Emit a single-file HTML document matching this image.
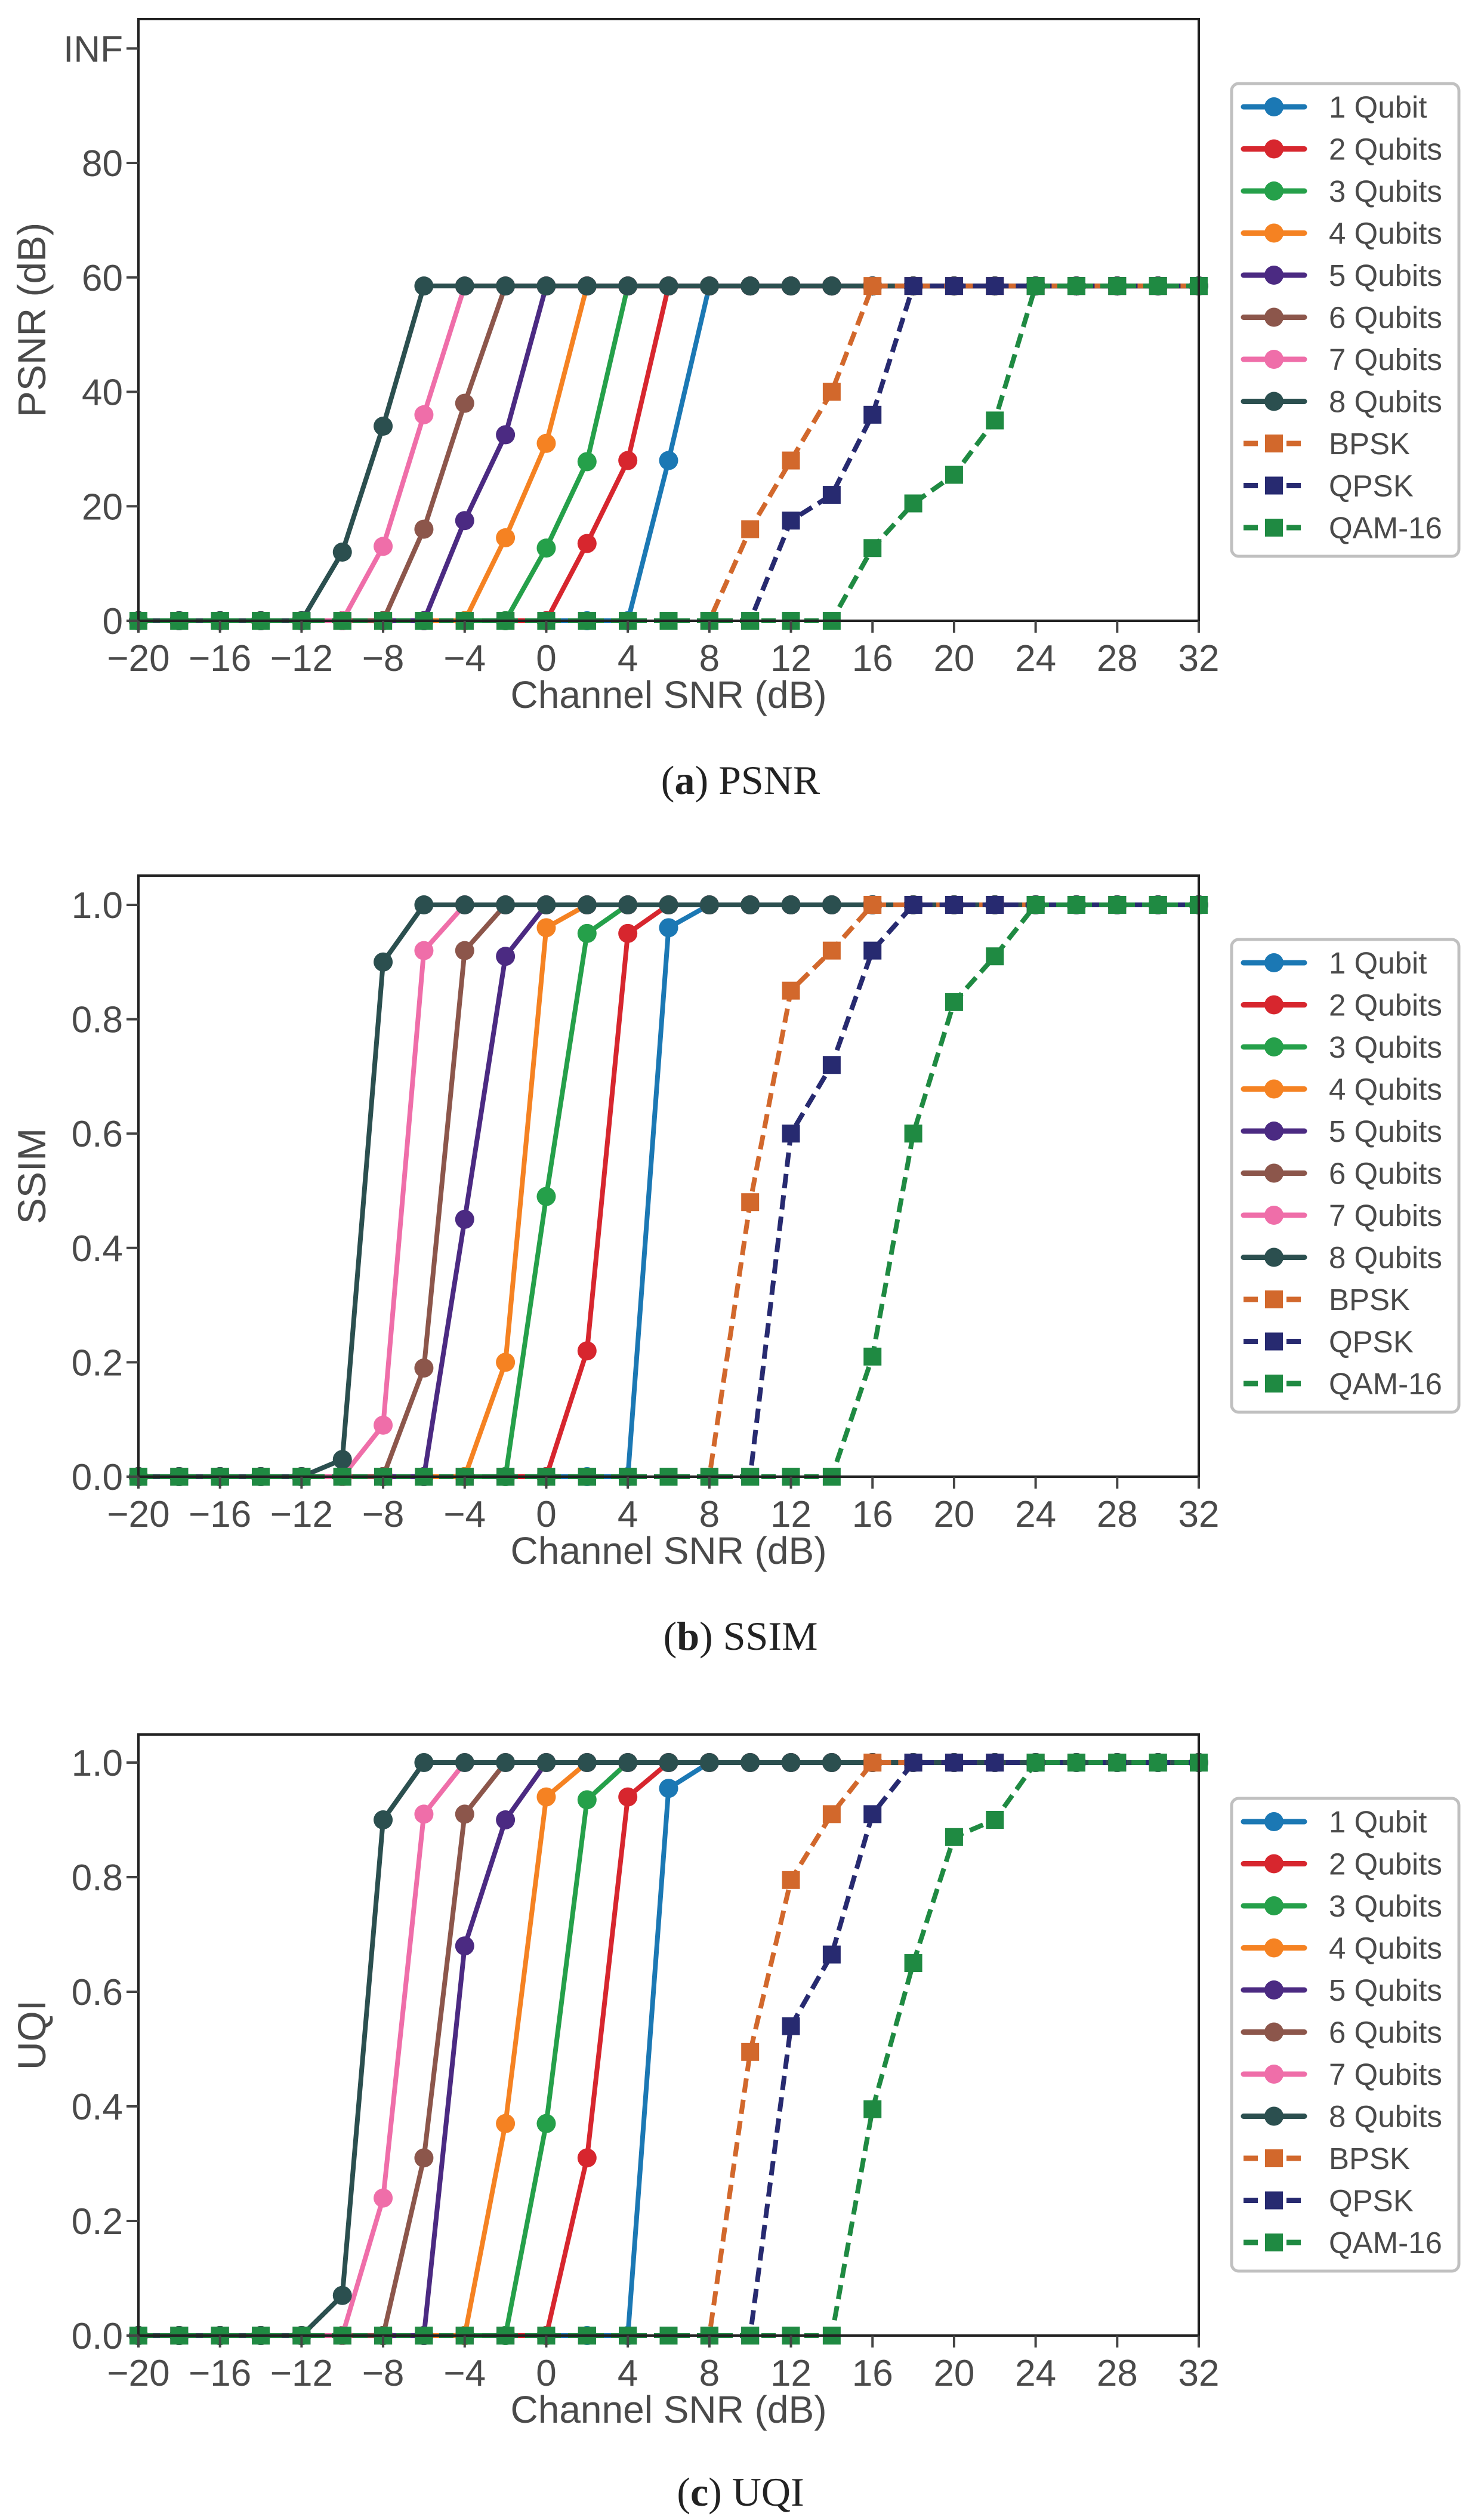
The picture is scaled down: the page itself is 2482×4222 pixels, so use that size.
<!DOCTYPE html>
<html><head><meta charset="utf-8"><style>
html,body{margin:0;padding:0;background:#fff;}
svg{display:block;}
</style></head><body>
<svg id="fig" width="2482" height="4222" viewBox="0 0 2482 4222" xmlns="http://www.w3.org/2000/svg"></svg>
<script>
const xValues = [-20,-18,-16,-14,-12,-10,-8,-6,-4,-2,0,2,4,6,8,10,12,14,16,18,20,22,24,26,28,30,32];
const seriesNames = ["1 Qubit","2 Qubits","3 Qubits","4 Qubits","5 Qubits","6 Qubits","7 Qubits","8 Qubits","BPSK","QPSK","QAM-16"];
const xTickLabels = ["-20","-16","-12","-8","-4","0","4","8","12","16","20","24","28","32"];
const xTickValues = [-20,-16,-12,-8,-4,0,4,8,12,16,20,24,28,32];
const psnrTickValues = [0,20,40,60,80,100];
const psnrTickLabels = ["0","20","40","60","80","INF"];
const unitTickValues = [0,0.2,0.4,0.6,0.8,1.0];
const unitTickLabels = ["0.0","0.2","0.4","0.6","0.8","1.0"];

const psnrQ1 = [0,0,0,0,0,0,0,0,0,0,0,0,0,28,58.5,58.5,58.5,58.5,58.5,58.5,58.5,58.5,58.5,58.5,58.5,58.5,58.5];
const psnrQ2 = [0,0,0,0,0,0,0,0,0,0,0,13.5,28,58.5,58.5,58.5,58.5,58.5,58.5,58.5,58.5,58.5,58.5,58.5,58.5,58.5,58.5];
const psnrQ3 = [0,0,0,0,0,0,0,0,0,0,12.7,27.8,58.5,58.5,58.5,58.5,58.5,58.5,58.5,58.5,58.5,58.5,58.5,58.5,58.5,58.5,58.5];
const psnrQ4 = [0,0,0,0,0,0,0,0,0,14.5,31,58.5,58.5,58.5,58.5,58.5,58.5,58.5,58.5,58.5,58.5,58.5,58.5,58.5,58.5,58.5,58.5];
const psnrQ5 = [0,0,0,0,0,0,0,0,17.5,32.5,58.5,58.5,58.5,58.5,58.5,58.5,58.5,58.5,58.5,58.5,58.5,58.5,58.5,58.5,58.5,58.5,58.5];
const psnrQ6 = [0,0,0,0,0,0,0,16,38,58.5,58.5,58.5,58.5,58.5,58.5,58.5,58.5,58.5,58.5,58.5,58.5,58.5,58.5,58.5,58.5,58.5,58.5];
const psnrQ7 = [0,0,0,0,0,0,13,36,58.5,58.5,58.5,58.5,58.5,58.5,58.5,58.5,58.5,58.5,58.5,58.5,58.5,58.5,58.5,58.5,58.5,58.5,58.5];
const psnrQ8 = [0,0,0,0,0,12,34,58.5,58.5,58.5,58.5,58.5,58.5,58.5,58.5,58.5,58.5,58.5,58.5,58.5,58.5,58.5,58.5,58.5,58.5,58.5,58.5];
const psnrBPSK = [0,0,0,0,0,0,0,0,0,0,0,0,0,0,0,16,28,40,58.5,58.5,58.5,58.5,58.5,58.5,58.5,58.5,58.5];
const psnrQPSK = [0,0,0,0,0,0,0,0,0,0,0,0,0,0,0,0,17.5,22,36,58.5,58.5,58.5,58.5,58.5,58.5,58.5,58.5];
const psnrQAM = [0,0,0,0,0,0,0,0,0,0,0,0,0,0,0,0,0,0,12.7,20.5,25.5,35,58.5,58.5,58.5,58.5,58.5];

const ssimQ1 = [0,0,0,0,0,0,0,0,0,0,0,0,0,0.96,1,1,1,1,1,1,1,1,1,1,1,1,1];
const ssimQ2 = [0,0,0,0,0,0,0,0,0,0,0,0.22,0.95,1,1,1,1,1,1,1,1,1,1,1,1,1,1];
const ssimQ3 = [0,0,0,0,0,0,0,0,0,0,0.49,0.95,1,1,1,1,1,1,1,1,1,1,1,1,1,1,1];
const ssimQ4 = [0,0,0,0,0,0,0,0,0,0.2,0.96,1,1,1,1,1,1,1,1,1,1,1,1,1,1,1,1];
const ssimQ5 = [0,0,0,0,0,0,0,0,0.45,0.91,1,1,1,1,1,1,1,1,1,1,1,1,1,1,1,1,1];
const ssimQ6 = [0,0,0,0,0,0,0,0.19,0.92,1,1,1,1,1,1,1,1,1,1,1,1,1,1,1,1,1,1];
const ssimQ7 = [0,0,0,0,0,0,0.09,0.92,1,1,1,1,1,1,1,1,1,1,1,1,1,1,1,1,1,1,1];
const ssimQ8 = [0,0,0,0,0,0.03,0.9,1,1,1,1,1,1,1,1,1,1,1,1,1,1,1,1,1,1,1,1];
const ssimBPSK = [0,0,0,0,0,0,0,0,0,0,0,0,0,0,0,0.48,0.85,0.92,1,1,1,1,1,1,1,1,1];
const ssimQPSK = [0,0,0,0,0,0,0,0,0,0,0,0,0,0,0,0,0.6,0.72,0.92,1,1,1,1,1,1,1,1];
const ssimQAM = [0,0,0,0,0,0,0,0,0,0,0,0,0,0,0,0,0,0,0.21,0.6,0.83,0.91,1,1,1,1,1];

const uqiQ1 = [0,0,0,0,0,0,0,0,0,0,0,0,0,0.955,1,1,1,1,1,1,1,1,1,1,1,1,1];
const uqiQ2 = [0,0,0,0,0,0,0,0,0,0,0,0.31,0.94,1,1,1,1,1,1,1,1,1,1,1,1,1,1];
const uqiQ3 = [0,0,0,0,0,0,0,0,0,0,0.37,0.935,1,1,1,1,1,1,1,1,1,1,1,1,1,1,1];
const uqiQ4 = [0,0,0,0,0,0,0,0,0,0.37,0.94,1,1,1,1,1,1,1,1,1,1,1,1,1,1,1,1];
const uqiQ5 = [0,0,0,0,0,0,0,0,0.68,0.9,1,1,1,1,1,1,1,1,1,1,1,1,1,1,1,1,1];
const uqiQ6 = [0,0,0,0,0,0,0,0.31,0.91,1,1,1,1,1,1,1,1,1,1,1,1,1,1,1,1,1,1];
const uqiQ7 = [0,0,0,0,0,0,0.24,0.91,1,1,1,1,1,1,1,1,1,1,1,1,1,1,1,1,1,1,1];
const uqiQ8 = [0,0,0,0,0,0.07,0.9,1,1,1,1,1,1,1,1,1,1,1,1,1,1,1,1,1,1,1,1];
const uqiBPSK = [0,0,0,0,0,0,0,0,0,0,0,0,0,0,0,0.495,0.795,0.91,1,1,1,1,1,1,1,1,1];
const uqiQPSK = [0,0,0,0,0,0,0,0,0,0,0,0,0,0,0,0,0.54,0.665,0.91,1,1,1,1,1,1,1,1];
const uqiQAM = [0,0,0,0,0,0,0,0,0,0,0,0,0,0,0,0,0,0,0.395,0.65,0.87,0.9,1,1,1,1,1];

const colors = ["#1b78b4","#d7262e","#25a04a","#f58222","#4b2a82","#8c564b","#ef6ea9","#2b4f4f","#d2682c","#272a70","#1f8a42"];

const NS = "http://www.w3.org/2000/svg";
const svg = document.getElementById("fig");
function mk(tag, attrs, parent){
  const e = document.createElementNS(NS, tag);
  for (const k in attrs) e.setAttribute(k, attrs[k]);
  (parent||svg).appendChild(e);
  return e;
}
const X0 = 232, X1 = 2009;
function xScale(v){ return X0 + (v + 20) * (X1 - X0) / 52; }

function panel(cfg){
  const g = mk("g", {});
  
  
  const yScale = v => cfg.bottom - (v - cfg.ymin) * (cfg.bottom - cfg.topTickY) / (cfg.ymaxTick - cfg.ymin);
  cfg.data.forEach((arr, s) => {
    const sg = mk("g", {}, g);
    
    
    const pts = arr.map((v,i) => xScale(xValues[i]).toFixed(1) + "," + yScale(v).toFixed(1)).join(" ");
    const dashed = s >= 8;
    const pl = mk("polyline", {points: pts, fill: "none", stroke: colors[s], "stroke-width": 8, "stroke-linejoin": "round"}, sg);
    if (dashed) pl.setAttribute("stroke-dasharray", "24 12");
    
    
    arr.forEach((v,i) => {
      const cx = xScale(xValues[i]), cy = yScale(v);
      let m;
      if (dashed) m = mk("rect", {x: cx-15, y: cy-15, width: 30, height: 30, fill: colors[s]}, sg);
      else m = mk("circle", {cx: cx, cy: cy, r: 16, fill: colors[s]}, sg);
      
      
    });
  });
  const fr = mk("rect", {x: X0, y: cfg.top, width: X1-X0, height: cfg.bottom-cfg.top, fill: "none", stroke: "#222", "stroke-width": 4}, g);
  
  
  xTickValues.forEach((v,i) => {
    const x = xScale(v);
    const t = mk("line", {x1: x, x2: x, y1: cfg.bottom, y2: cfg.bottom+20, stroke: "#444", "stroke-width": 4}, g);
    
    
    const tx = mk("text", {x: x, y: cfg.bottom+84, "text-anchor": "middle", "font-size": 62, fill: "#4a4a4a", "font-family": "Liberation Sans, sans-serif"}, g);
    tx.textContent = xTickLabels[i].replace("-", "\u2212");
    
    
  });
  cfg.yTicks.forEach((v,i) => {
    const y = yScale(v);
    const t = mk("line", {x1: X0-20, x2: X0, y1: y, y2: y, stroke: "#444", "stroke-width": 4}, g);
    
    
    const tx = mk("text", {x: X0-26, y: y+22, "text-anchor": "end", "font-size": 62, fill: "#4a4a4a", "font-family": "Liberation Sans, sans-serif"}, g);
    tx.textContent = cfg.yLabels[i];
    
    
  });
  const xl = mk("text", {x: (X0+X1)/2, y: cfg.bottom+146, "text-anchor": "middle", "font-size": 64, fill: "#4a4a4a", "font-family": "Liberation Sans, sans-serif"}, g);
  xl.textContent = "Channel SNR (dB)";
  
  
  const ymid = (cfg.top + cfg.bottom)/2;
  const yl = mk("text", {x: 76, y: ymid, "text-anchor": "middle", "font-size": 66, fill: "#4a4a4a", "font-family": "Liberation Sans, sans-serif", transform: "rotate(-90 76 " + ymid + ")"}, g);
  yl.textContent = cfg.ylabel;
  
  
  const lg = mk("g", {}, g);
  
  
  const lb = mk("rect", {x: 2064, y: cfg.legendTop, width: 381, height: 792, rx: 12, fill: "#fff", stroke: "#c0c0c0", "stroke-width": 5}, lg);
  
  
  seriesNames.forEach((n, s) => {
    const y = cfg.legendTop + 39 + s*70.5;
    const eg = mk("g", {}, lg);
    
    
    const dashed = s >= 8;
    const ln = mk("line", {x1: 2084, x2: 2186, y1: y, y2: y, stroke: colors[s], "stroke-width": 9, "stroke-linecap": dashed ? "butt" : "round"}, eg);
    if (dashed) ln.setAttribute("stroke-dasharray", "24 12");
    if (dashed) mk("rect", {x: 2120, y: y-15, width: 30, height: 30, fill: colors[s]}, eg);
    else mk("circle", {cx: 2135, cy: y, r: 16, fill: colors[s]}, eg);
    const tx = mk("text", {x: 2227, y: y+18, "font-size": 51, fill: "#4a4a4a", "font-family": "Liberation Sans, sans-serif"}, eg);
    tx.textContent = n;
  });
  const cap = mk("text", {x: 1241, y: cfg.captionY, "text-anchor": "middle", "font-size": 68, fill: "#222", "font-family": "Liberation Serif, serif"}, g);
  cap.innerHTML = '(<tspan font-weight="bold">' + cfg.capLetter + '</tspan>) ' + cfg.capText;
  
  
}

panel({name: "psnr", top: 32, bottom: 1040, ymin: 0, ymaxTick: 80, topTickY: 273, yTicks: psnrTickValues, yLabels: psnrTickLabels, ylabel: "PSNR (dB)",
  data: [psnrQ1,psnrQ2,psnrQ3,psnrQ4,psnrQ5,psnrQ6,psnrQ7,psnrQ8,psnrBPSK,psnrQPSK,psnrQAM], legendTop: 140, captionY: 1330, capLetter: "a", capText: "PSNR"});
panel({name: "ssim", top: 1467, bottom: 2474, ymin: 0, ymaxTick: 1, topTickY: 1516, yTicks: unitTickValues, yLabels: unitTickLabels, ylabel: "SSIM",
  data: [ssimQ1,ssimQ2,ssimQ3,ssimQ4,ssimQ5,ssimQ6,ssimQ7,ssimQ8,ssimBPSK,ssimQPSK,ssimQAM], legendTop: 1574, captionY: 2764, capLetter: "b", capText: "SSIM"});
panel({name: "uqi", top: 2906, bottom: 3913, ymin: 0, ymaxTick: 1, topTickY: 2953, yTicks: unitTickValues, yLabels: unitTickLabels, ylabel: "UQI",
  data: [uqiQ1,uqiQ2,uqiQ3,uqiQ4,uqiQ5,uqiQ6,uqiQ7,uqiQ8,uqiBPSK,uqiQPSK,uqiQAM], legendTop: 3013, captionY: 4198, capLetter: "c", capText: "UQI"});
</script>
</body></html>
